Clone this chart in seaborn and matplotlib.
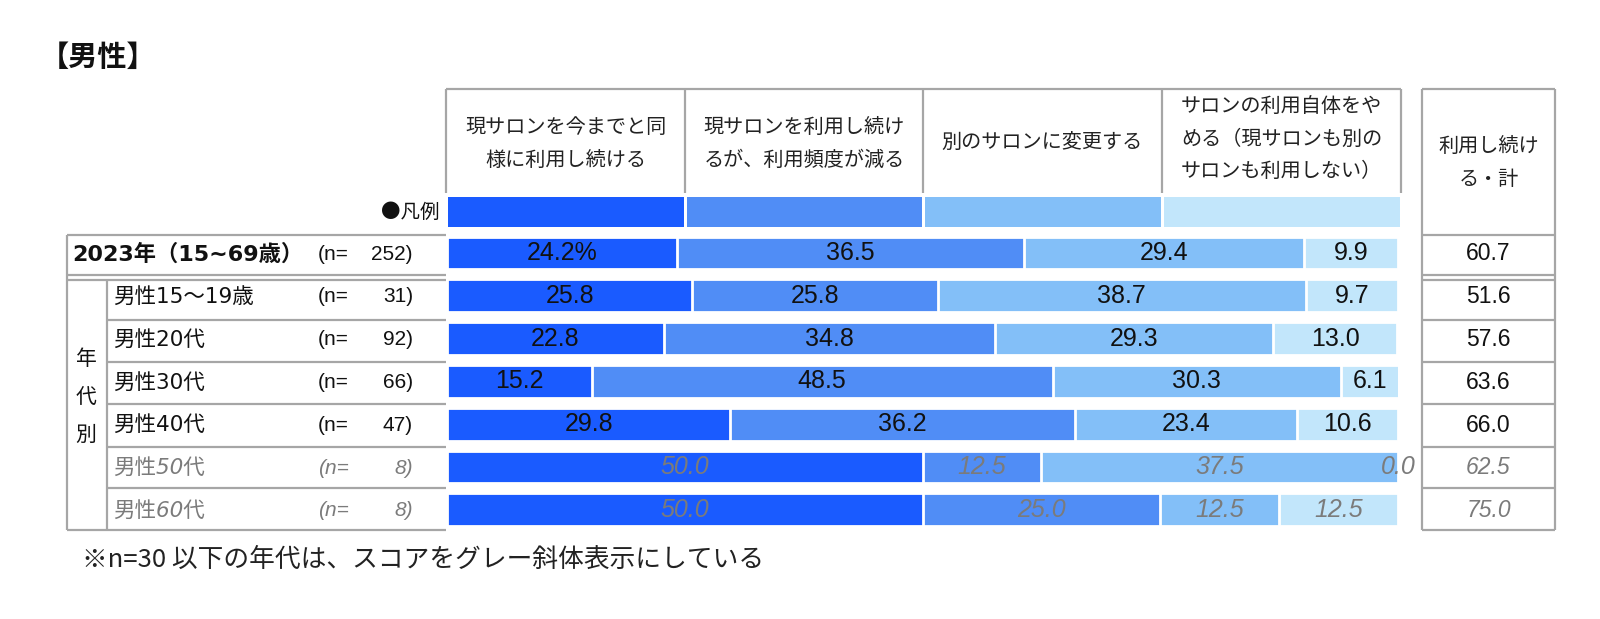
import matplotlib
matplotlib.use('Agg')
import matplotlib.pyplot as plt
from matplotlib.patches import Rectangle
import seaborn as sns
import pandas as pd

# data
categories = ['2023年（15~69歳）', '男性15～19歳', '男性20代', '男性30代',
              '男性40代', '男性50代', '男性60代']
n_sizes = [252, 31, 92, 66, 47, 8, 8]
same_as_now = [24.2, 25.8, 22.8, 15.2, 29.8, 50.0, 50.0]
less_often = [36.5, 25.8, 34.8, 48.5, 36.2, 12.5, 25.0]
switch_salon = [29.4, 38.7, 29.3, 30.3, 23.4, 37.5, 12.5]
stop_salon = [9.9, 9.7, 13.0, 6.1, 10.6, 0.0, 12.5]
keep_total = [60.7, 51.6, 57.6, 63.6, 66.0, 62.5, 75.0]
option_labels = ['現サロンを今までと同\n様に利用し続ける',
                 '現サロンを利用し続け\nるが、利用頻度が減る',
                 '別のサロンに変更する',
                 'サロンの利用自体をや\nめる（現サロンも別の\nサロンも利用しない）']
total_label = '利用し続け\nる・計'
colors = ['#1a5bff', '#508df6', '#83bff8', '#c2e6fb']

sns.set_theme(style='white')
plt.rcParams['font.family'] = ['Noto Sans CJK JP', 'DejaVu Sans']

W, H = 1600, 619
fig = plt.figure(figsize=(16, 6.19), dpi=100)

# overlay in pixel coords for the table frame and texts
ov = fig.add_axes([0, 0, 1, 1], zorder=0)
ov.set_xlim(0, W)
ov.set_ylim(H, 0)
ov.axis('off')

# bar axes
row0, pitch = 253.0, 42.8
top_px = row0 - pitch / 2
bot_px = row0 + pitch * (len(categories) - 1) + pitch / 2
x0_px, x1_px = 447, 1398
ax = fig.add_axes([x0_px / W, 1 - bot_px / H, (x1_px - x0_px) / W, (bot_px - top_px) / H], zorder=1)

series = [same_as_now, less_often, switch_salon, stop_salon]
df = pd.DataFrame({'category': categories})
cum = [0.0] * len(categories)
cum_cols = []
for k, s in enumerate(series):
    cum = [c + v for c, v in zip(cum, s)]
    df[f'cum{k}'] = cum
    cum_cols.append(f'cum{k}')

for k in reversed(range(4)):
    sns.barplot(data=df, x=cum_cols[k], y='category', orient='h', color=colors[k],
                saturation=1, width=0.77, edgecolor='white', linewidth=2,
                errorbar=None, ax=ax)
ax.set_xlim(0, 100)
ax.set_ylim(len(categories) - 0.5, -0.5)
ax.axis('off')

gray = '#7b7b7b'
small = [n <= 30 for n in n_sizes]
for i, cat in enumerate(categories):
    left = 0.0
    for k, s in enumerate(series):
        v = s[i]
        txt = f'{v:.1f}%' if (i == 0 and k == 0) else f'{v:.1f}'
        ax.text(left + v / 2, i, txt, ha='center', va='center', fontsize=18,
                family='Liberation Sans', color=gray if small[i] else '#111111',
                style='italic' if small[i] else 'normal', clip_on=False)
        left += v

# frame lines
lc, lw = '#a6a6a6', 1.6
def hline(y, xa, xb):
    ov.plot([xa, xb], [y, y], color=lc, lw=lw, solid_capstyle='butt')
def vline(x, ya, yb):
    ov.plot([x, x], [ya, yb], color=lc, lw=lw, solid_capstyle='butt')

# header
cols = [446, 685, 923, 1162, 1401]
hline(89, cols[0], cols[-1])
for x in cols:
    vline(x, 89, 193)
hy = [144, 144, 142, 139]
for k, lab in enumerate(option_labels):
    ov.text((cols[k] + cols[k + 1]) / 2, hy[k], lab, ha='center', va='center',
            fontsize=14.5, linespacing=1.7, color='#222222')
    ov.add_patch(Rectangle((cols[k] + 2, 197), cols[k + 1] - cols[k] - 3, 30,
                           facecolor=colors[k], edgecolor='none'))
ov.text(440, 212, '●凡例', ha='right', va='center', fontsize=14, color='#111111')

# left table
tx0, tx1 = 67, 446
hline(235, tx0, tx1)
hline(275, tx0, tx1)
hline(280, tx0, tx1)
for y in [320, 362, 404, 447, 488]:
    hline(y, 107, tx1)
hline(530, tx0, tx1)
vline(tx0, 235, 530)
vline(107, 280, 530)
for j, ch in enumerate('年代別'):
    ov.text(86, 359 + 38 * j, ch, ha='center', va='center', fontsize=15, color='#111111')

# right box
rx0, rx1 = 1422, 1555
vline(rx0, 89, 530)
vline(rx1, 89, 530)
hline(89, rx0, rx1)
for y in [235, 275, 280, 320, 362, 404, 447, 488, 530]:
    hline(y, rx0, rx1)
ov.text((rx0 + rx1) / 2, 163, total_label, ha='center', va='center', fontsize=14.5,
        linespacing=1.7, color='#222222')

for i, cat in enumerate(categories):
    y = row0 + pitch * i + 1
    c = gray if small[i] else '#111111'
    st = 'italic' if small[i] else 'normal'
    fam = ['DejaVu Sans', 'Noto Sans CJK JP']
    if i == 0:
        ov.text(72, y, cat, ha='left', va='center', fontsize=16, fontweight='bold', color=c,
                family=fam)
    else:
        ov.text(113, y, cat, ha='left', va='center', fontsize=15.5, color=c, style=st, family=fam)
    ov.text(318, y, '(n=', ha='left', va='center', fontsize=15, color=c, style=st,
            family=['Liberation Sans', 'Noto Sans CJK JP'])
    ov.text(413, y, f'{n_sizes[i]})', ha='right', va='center', fontsize=15, color=c, style=st,
            family=['Liberation Sans', 'Noto Sans CJK JP'])
    ov.text((rx0 + rx1) / 2, y, f'{keep_total[i]:.1f}', ha='center', va='center', fontsize=16.5,
            family='Liberation Sans', color=c, style=st)

ov.text(40, 57, '【男性】', ha='left', va='center', fontsize=21, fontweight='bold', color='#111111')
ov.text(82, 560, '※n=30 以下の年代は、スコアをグレー斜体表示にしている', ha='left', va='center',
        fontsize=18.5, color='#222222')

fig.savefig('out.png', dpi=100, facecolor='white')
